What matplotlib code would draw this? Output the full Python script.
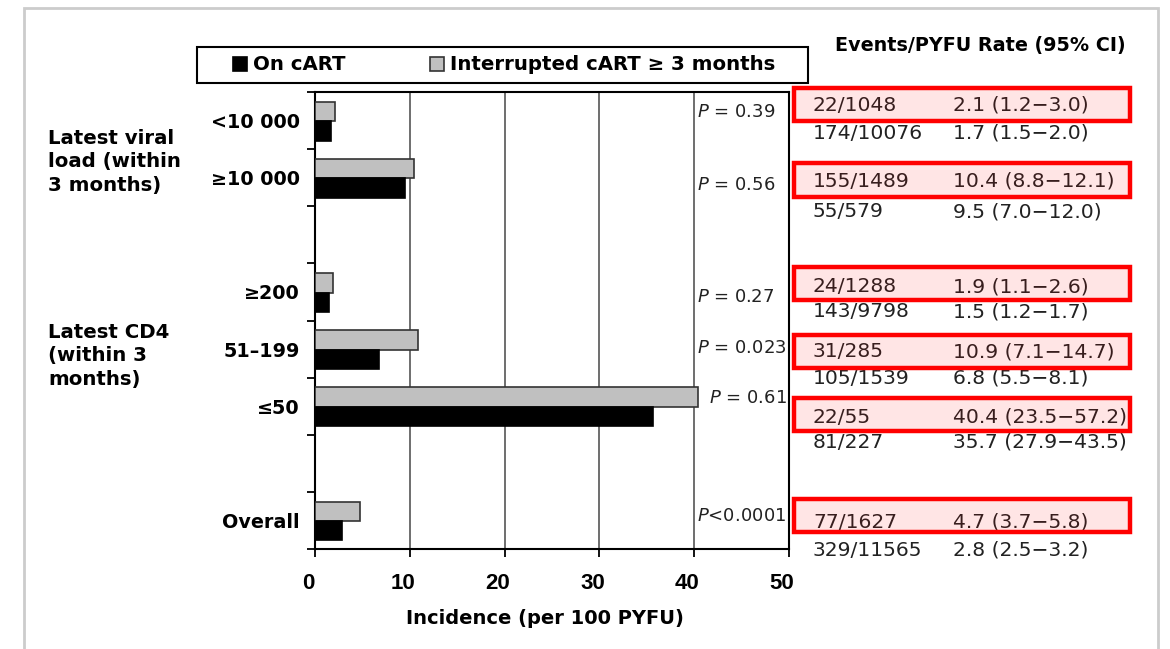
import numpy as np
import matplotlib
matplotlib.use('Agg')
import matplotlib.pyplot as plt
import matplotlib.transforms as mtransforms
from matplotlib.patches import Rectangle

plt.rcParams['font.family'] = 'DejaVu Sans'
plt.rcParams['mathtext.fontset'] = 'custom'
plt.rcParams['mathtext.rm'] = 'DejaVu Sans'
plt.rcParams['mathtext.it'] = 'DejaVu Sans:italic'

# categories (slot index on the y axis, 0 = top)
categories = ['<10 000', '\u226510 000', '\u2265200', '51\u2013199', '\u226450', 'Overall']
slots = [0, 1, 3, 4, 5, 7]
n_slots = 8

# incidence per 100 PYFU
on_cart = [1.7, 9.5, 1.5, 6.8, 35.7, 2.8]
interrupted = [2.1, 10.4, 1.9, 10.9, 40.4, 4.7]

p_values = ['$P$ = 0.39', '$P$ = 0.56', '$P$ = 0.27', '$P$ = 0.023', '$P$ = 0.61',
            '$P$<0.0001']

events_int = ['22/1048', '155/1489', '24/1288', '31/285', '22/55', '77/1627']
rate_int = ['2.1 (1.2\u22123.0)', '10.4 (8.8\u221212.1)', '1.9 (1.1\u22122.6)',
            '10.9 (7.1\u221214.7)', '40.4 (23.5\u221257.2)', '4.7 (3.7\u22125.8)']
events_on = ['174/10076', '55/579', '143/9798', '105/1539', '81/227', '329/11565']
rate_on = ['1.7 (1.5\u22122.0)', '9.5 (7.0\u221212.0)', '1.5 (1.2\u22121.7)',
           '6.8 (5.5\u22128.1)', '35.7 (27.9\u221243.5)', '2.8 (2.5\u22123.2)']

groups = ['Latest viral\nload (within\n3 months)', 'Latest CD4\n(within 3\nmonths)']

W, H = 1170, 649
fig = plt.figure(figsize=(W / 100, H / 100), dpi=100)
ax = fig.add_axes([315 / W, 1 - 549 / H, 474 / W, 457 / H])

y = np.array(slots, dtype=float)
bh = 0.34
ax.barh(y + 0.34, interrupted, height=bh, color='#c0c0c0', edgecolor='#333333',
        linewidth=1.2, label='Interrupted cART \u2265 3 months', zorder=3)
ax.barh(y + 0.68, on_cart, height=bh, color='black', edgecolor='black',
        linewidth=1.2, label='On cART', zorder=3)

ax.set_xlim(0, 50)
ax.set_ylim(n_slots, 0)
ax.set_xticks(np.arange(0, 51, 10))
ax.tick_params(axis='x', direction='out', length=6, width=1.3, pad=11, labelsize=16)
shift = mtransforms.ScaledTranslation(-7 / 100, 0, fig.dpi_scale_trans)
for lab in ax.get_xticklabels():
    lab.set_fontweight('bold')
    lab.set_family('Liberation Sans')
    lab.set_transform(lab.get_transform() + shift)

ax.set_yticks(np.arange(0, n_slots + 1))
ax.set_yticklabels([])
ax.tick_params(axis='y', which='major', direction='out', length=6, width=1.3)
ax.set_yticks(y + 0.5, minor=True)
ax.set_yticklabels(categories, minor=True, fontsize=13.8, fontweight='bold')
ax.tick_params(axis='y', which='minor', length=0, pad=11)

for s in ax.spines.values():
    s.set_linewidth(1.5)
for gx in [10, 20, 30, 40]:
    ax.axvline(gx, color='#555555', linewidth=1.2, zorder=1)

ax.set_xlabel('Incidence (per 100 PYFU)', fontsize=14, fontweight='bold', labelpad=11)
ax.xaxis.label.set_x(0.485)

# P values next to each pair of bars
p_off = [0.35, 0.62, 0.58, 0.48, 0.36, 0.43]
for i, (s, p) in enumerate(zip(slots, p_values)):
    px = 40.3 if interrupted[i] < 40 else interrupted[i] + 1.2
    ax.text(px, s + p_off[i], p, fontsize=13, va='center', ha='left', color='#222222', zorder=4)

# events / rate table on the right, interrupted row highlighted
tr = mtransforms.blended_transform_factory(fig.transFigure, ax.transData)
row1_off = [0.23, 0.56, 0.41, 0.55, 0.69, 0.53]
row_gap = [0.49, 0.54, 0.44, 0.46, 0.44, 0.49]
box_off = [0.22, 0.54, 0.35, 0.54, 0.64, 0.42]
for i, s in enumerate(slots):
    y1 = s + row1_off[i]
    y2 = y1 + row_gap[i]
    for x0, t1, t2 in [(813, events_int[i], events_on[i]), (953, rate_int[i], rate_on[i])]:
        ax.text(x0 / W, y1, t1, transform=tr, fontsize=14.6, va='center', color='#222222', clip_on=False)
        ax.text(x0 / W, y2, t2, transform=tr, fontsize=14.6, va='center', color='#222222', clip_on=False)
    ax.add_patch(Rectangle((794 / W, s + box_off[i] - 0.29), 336 / W, 0.58, transform=tr,
                           facecolor=(1, 0, 0, 0.1), edgecolor='#ff0000', linewidth=3.2,
                           clip_on=False, zorder=5))

fig.text(980 / W, 1 - 46 / H, 'Events/PYFU Rate (95% CI)', fontsize=13.8, fontweight='bold',
         ha='center', va='center')

for g, gy in zip(groups, [1.22, 4.62]):
    ax.text(48 / W, gy, g, transform=tr, fontsize=14.2, fontweight='bold', va='center',
            ha='left', linespacing=1.3, clip_on=False)

# legend in its own box above the plot
fig.patches.append(Rectangle((197 / W, 1 - 83 / H), 611 / W, 36 / H, transform=fig.transFigure,
                             fill=False, edgecolor='black', linewidth=1.5))
handles, labels = ax.get_legend_handles_labels()
fig.legend(handles[::-1], labels[::-1], ncol=2, loc='center left',
           bbox_to_anchor=(233 / W, 1 - 65 / H), frameon=False, borderpad=0, borderaxespad=0,
           handlelength=0.7, handleheight=0.7, handletextpad=0.3, columnspacing=4.3,
           prop={'size': 14.2, 'weight': 'bold'})

# light frame around the figure
fig.patches.append(Rectangle((24 / W, -0.05), 1134 / W, 1.05 - 8 / H, transform=fig.transFigure,
                             fill=False, edgecolor='#cccccc', linewidth=2))

fig.savefig('out.png', dpi=100)
